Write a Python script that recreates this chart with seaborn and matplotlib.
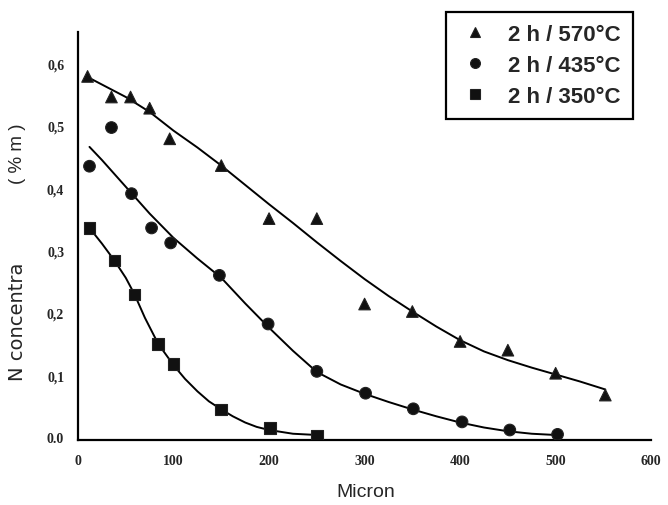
import matplotlib
matplotlib.use("Agg")
import matplotlib.pyplot as plt
import seaborn as sns
import pandas as pd
from matplotlib.ticker import MultipleLocator, FixedLocator

# ---- data ----
labels = ["2 h / 570°C", "2 h / 435°C", "2 h / 350°C"]

x570 = [10, 35, 55, 75, 96, 150, 200, 250, 300, 350, 400, 450, 500, 552]
y570 = [0.579, 0.546, 0.546, 0.528, 0.479, 0.436, 0.351, 0.351, 0.214, 0.202, 0.154, 0.140, 0.103, 0.068]

x435 = [12, 35, 56, 77, 97, 148, 199, 250, 301, 351, 402, 452, 502]
y435 = [0.435, 0.497, 0.391, 0.336, 0.312, 0.260, 0.182, 0.106, 0.071, 0.046, 0.025, 0.012, 0.005]

x350 = [12, 38, 59, 84, 100, 150, 201, 250]
y350 = [0.336, 0.284, 0.229, 0.150, 0.118, 0.045, 0.015, 0.003]

# fitted curves
cx570 = [10, 30, 50, 75, 100, 125, 150, 175, 200, 225, 250, 275, 300, 325, 350, 375, 400, 425, 450, 475, 500, 525, 552]
cy570 = [0.578, 0.562, 0.546, 0.522, 0.492, 0.465, 0.436, 0.405, 0.374, 0.344, 0.313, 0.283, 0.254, 0.227, 0.202, 0.178, 0.156, 0.138, 0.124, 0.112, 0.101, 0.090, 0.077]

cx435 = [12, 25, 50, 75, 100, 125, 150, 175, 200, 225, 250, 275, 300, 325, 350, 375, 400, 425, 450, 475, 500]
cy435 = [0.466, 0.445, 0.402, 0.359, 0.320, 0.287, 0.256, 0.215, 0.176, 0.139, 0.105, 0.085, 0.070, 0.057, 0.045, 0.034, 0.024, 0.016, 0.010, 0.006, 0.004]

cx350 = [12, 25, 38, 50, 59, 70, 84, 100, 112, 125, 137, 150, 162, 175, 187, 200, 225, 250]
cy350 = [0.336, 0.311, 0.284, 0.256, 0.230, 0.192, 0.150, 0.116, 0.094, 0.074, 0.058, 0.045, 0.034, 0.024, 0.017, 0.012, 0.006, 0.004]

xticks = [0, 100, 200, 300, 400, 500, 600]
yticks = [0.0, 0.1, 0.2, 0.3, 0.4, 0.5, 0.6]
ytick_labels = ["0.0", "0,1", "0,2", "0,3", "0,4", "0,5", "0,6"]

pts = pd.concat([
    pd.DataFrame({"x": x570, "y": y570, "series": labels[0]}),
    pd.DataFrame({"x": x435, "y": y435, "series": labels[1]}),
    pd.DataFrame({"x": x350, "y": y350, "series": labels[2]}),
])
curves = pd.concat([
    pd.DataFrame({"x": cx570, "y": cy570, "series": labels[0]}),
    pd.DataFrame({"x": cx435, "y": cy435, "series": labels[1]}),
    pd.DataFrame({"x": cx350, "y": cy350, "series": labels[2]}),
])

sns.set_style("white")
plt.rcParams["font.family"] = ["Liberation Sans", "DejaVu Sans"]

W, H = 668, 506
fig = plt.figure(figsize=(W / 100, H / 100), dpi=100)
ax = fig.add_axes([0.1168, 0.1285, 0.858, 0.806])

pal = {l: "black" for l in labels}
sns.lineplot(data=curves, x="x", y="y", hue="series", palette=pal, ax=ax,
             linewidth=1.4, legend=False, sort=False, estimator=None)
sns.scatterplot(data=pts, x="x", y="y", hue="series", style="series",
                markers={labels[0]: "^", labels[1]: "o", labels[2]: "s"},
                palette={l: "#111111" for l in labels}, s=70, edgecolor="#222222",
                linewidth=0.8, ax=ax, zorder=3)

ax.set_xlim(0, 600)
ax.set_ylim(-0.004, 0.65)
ax.xaxis.set_major_locator(FixedLocator(xticks))
ax.xaxis.set_minor_locator(MultipleLocator(50))
ax.yaxis.set_major_locator(FixedLocator(yticks))
ax.yaxis.set_minor_locator(MultipleLocator(0.05))
ax.set_yticklabels(ytick_labels)
ax.set_xticklabels([str(v) for v in xticks])

for s in ["top", "right"]:
    ax.spines[s].set_visible(False)
for s in ["left", "bottom"]:
    ax.spines[s].set_color("black")
    ax.spines[s].set_linewidth(1.6)

ax.tick_params(axis="both", which="major", direction="out", length=6, width=1.4,
               color="black", labelsize=10, pad=4)
ax.tick_params(axis="both", which="minor", direction="out", length=3.5, width=1.2, color="black")
for t in ax.get_xticklabels() + ax.get_yticklabels():
    t.set_fontfamily(["Liberation Serif"])
    t.set_fontweight("bold")

# x label
ax.set_xlabel("Micron", fontsize=14)
ax.xaxis.set_label_coords(0.5025, -0.106)

# y label (two parts as in the original)
ax.set_ylabel("")
fig.text(18 / W, 1 - 322 / H, "N concentra", rotation=90, ha="center", va="center",
         fontsize=14, family=["DejaVu Sans"])
fig.text(18 / W, 1 - 154 / H, "( % m )", rotation=90, ha="center", va="center",
         fontsize=13.5, family=["Liberation Sans"])

handles, lbls = ax.get_legend_handles_labels()
leg = ax.legend(handles, lbls, loc="upper right", bbox_to_anchor=(0.968, 1.0495),
                borderaxespad=0, frameon=True, fancybox=False, edgecolor="black",
                framealpha=1, prop={"weight": "bold", "size": 16},
                handlelength=1.5, handletextpad=0.75, borderpad=0.55,
                labelspacing=0.45, markerscale=0.85)
leg.get_frame().set_linewidth(1.6)

fig.savefig("out.png", dpi=100)
